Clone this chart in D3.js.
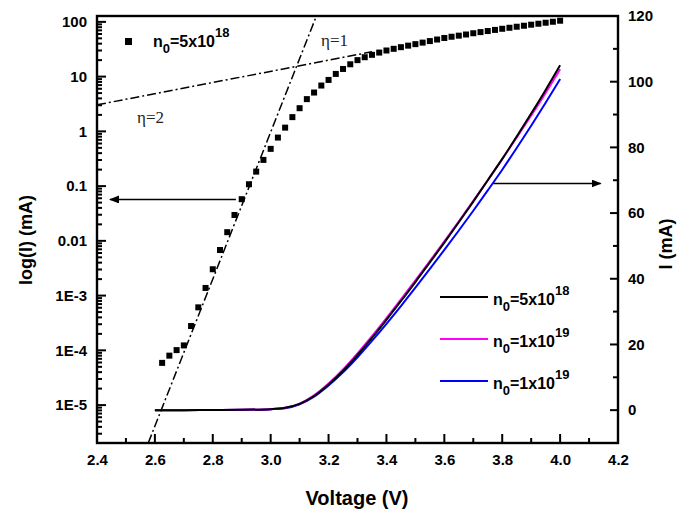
<!DOCTYPE html>
<html>
<head>
<meta charset="utf-8">
<script src="https://cdn.jsdelivr.net/npm/d3@7"></script>
<style>
body { margin: 0; background: #fff; }
text { font-family: "Liberation Sans", Arial, sans-serif; font-weight: bold; fill: #000; }
.eta { font-family: "Liberation Serif", "Times New Roman", serif; font-weight: normal; fill: #222; }
</style>
</head>
<body>
<div id="chart"></div>
<script>
var width = 679, height = 511;
var plotLeft = 97, plotRight = 618, plotTop = 16, plotBottom = 443;

// log(I) measured points, n0 = 5x10^18
var scatterVolt = [2.625, 2.65, 2.675, 2.7, 2.725, 2.75, 2.775, 2.8, 2.825, 2.85,
    2.875, 2.9, 2.925, 2.95, 2.975, 3.0, 3.025, 3.05, 3.075, 3.1,
    3.125, 3.15, 3.175, 3.2, 3.225, 3.25, 3.275, 3.3, 3.325, 3.35,
    3.375, 3.4, 3.425, 3.45, 3.475, 3.5, 3.525, 3.55, 3.575, 3.6,
    3.625, 3.65, 3.675, 3.7, 3.725, 3.75, 3.775, 3.8, 3.825, 3.85,
    3.875, 3.9, 3.925, 3.95, 3.975, 4.0];
var scatterCurrent = [5.9e-5, 8.0e-5, 1.01e-4, 1.23e-4, 2.78e-4, 6.1e-4, 1.38e-3, 3.03e-3, 6.8e-3, 0.0144,
    0.0297, 0.0577, 0.108, 0.184, 0.301, 0.479, 0.77, 1.17, 1.82, 2.65,
    3.88, 5.12, 6.87, 8.7, 11.2, 13.8, 16.8, 20.0, 22.6, 25.0,
    27.5, 30.0, 32.2, 34.5, 36.8, 39.2, 41.8, 44.6, 47.6, 50.8,
    53.5, 56.0, 58.8, 62.0, 65.0, 68.0, 71.3, 74.8, 78.0, 81.5,
    85.0, 88.8, 92.5, 96.5, 100.5, 105.0];

// linear I-V curves (right axis)
var curveVolt = [2.6, 2.7, 2.8, 2.9, 3.0, 3.05, 3.1, 3.15, 3.2, 3.25, 3.3, 3.35, 3.4,
    3.45, 3.5, 3.55, 3.6, 3.65, 3.7, 3.75, 3.8, 3.85, 3.9, 3.95, 4.0];
var curveBlack = [0, 0, 0.05, 0.1, 0.3, 0.7, 1.9, 4.3, 7.8, 12.0, 16.8, 22.0, 27.5,
    33.2, 39.0, 45.0, 51.0, 57.2, 63.5, 70.0, 76.5, 83.3, 90.3, 97.5, 105.0];
var curveMagenta = [0, 0, 0.05, 0.1, 0.3, 0.7, 2.0, 4.5, 8.1, 12.4, 17.3, 22.5, 28.0,
    33.7, 39.5, 45.4, 51.4, 57.5, 63.7, 70.0, 76.4, 83.0, 89.7, 96.6, 103.8];
var curveBlue = [0, 0, 0.05, 0.1, 0.3, 0.6, 1.8, 4.1, 7.5, 11.5, 16.1, 21.1, 26.3,
    31.7, 37.3, 43.0, 48.8, 54.7, 60.7, 66.9, 73.2, 79.8, 86.6, 93.6, 100.8];

// ideality factor fit lines [V, I]
var eta1Line = [[2.577, 2.03e-6], [3.158, 128]];
var eta2Line = [[2.4, 3.05], [3.35, 28.4]];

var xTicks = [2.4, 2.6, 2.8, 3.0, 3.2, 3.4, 3.6, 3.8, 4.0, 4.2];
var xMinor = [2.5, 2.7, 2.9, 3.1, 3.3, 3.5, 3.7, 3.9, 4.1];
var logTicks = [1e-5, 1e-4, 1e-3, 0.01, 0.1, 1, 10, 100];
var logLabels = ['1E-5', '1E-4', '1E-3', '0.01', '0.1', '1', '10', '100'];
var rightTicks = [0, 20, 40, 60, 80, 100, 120];
var rightMinor = [-10, 10, 30, 50, 70, 90, 110];

var legendNames = [['5', '18'], ['1', '19'], ['1', '19']];
var legendColors = ['#000000', '#ff00ff', '#0000ff'];

var svg = d3.select('#chart')
    .append('svg')
    .attr('width', width)
    .attr('height', height);

var xScale = d3.scaleLinear().domain([2.4, 4.2]).range([plotLeft, plotRight]);
var yLog = d3.scaleLog().domain([2.03e-6, 128]).range([plotBottom, plotTop]);
var yLin = d3.scaleLinear().domain([-10, 120]).range([plotBottom, plotTop]);

// plot frame
svg.append('rect')
    .attr('x', plotLeft).attr('y', plotTop)
    .attr('width', plotRight - plotLeft).attr('height', plotBottom - plotTop)
    .attr('fill', 'none').attr('stroke', '#000').attr('stroke-width', 2.4);

// log minor ticks: 2..9 in each decade
var logMinor = [];
[1e-6, 1e-5, 1e-4, 1e-3, 0.01, 0.1, 1, 10, 100].forEach(function(d){
    for (var k = 2; k <= 9; k++) {
        var v = d * k;
        if (v > 2.03e-6 && v < 128) logMinor.push(v);
    }
});

// inward ticks
function vTicks(values, len){
    svg.selectAll(null).data(values).enter().append('line')
        .attr('x1', function(d){ return xScale(d); })
        .attr('x2', function(d){ return xScale(d); })
        .attr('y1', plotBottom).attr('y2', plotBottom - len)
        .attr('stroke', '#000').attr('stroke-width', 2);
}
function hTicks(values, scale, x0, len){
    svg.selectAll(null).data(values).enter().append('line')
        .attr('x1', x0).attr('x2', x0 + len)
        .attr('y1', function(d){ return scale(d); })
        .attr('y2', function(d){ return scale(d); })
        .attr('stroke', '#000').attr('stroke-width', 2);
}
vTicks(xTicks, 9);
vTicks(xMinor, 5);
hTicks(logTicks, yLog, plotLeft, 9);
hTicks(logMinor, yLog, plotLeft, 5);
hTicks(rightTicks, yLin, plotRight, -8);
hTicks(rightMinor, yLin, plotRight, -5);

// tick labels through d3 axes
function labelAxis(g){
    g.select('.domain').remove();
    g.selectAll('.tick line').remove();
    g.selectAll('.tick text').attr('font-size', 15)
        .attr('font-family', '"Liberation Sans", Arial, sans-serif')
        .attr('font-weight', 'bold');
}
svg.append('g').attr('transform', 'translate(0,' + plotBottom + ')')
    .call(d3.axisBottom(xScale).tickValues(xTicks).tickSize(0).tickPadding(11)
        .tickFormat(d3.format('.1f')))
    .call(labelAxis);
svg.append('g').attr('transform', 'translate(' + plotLeft + ',0)')
    .call(d3.axisLeft(yLog).tickValues(logTicks).tickSize(0).tickPadding(10)
        .tickFormat(function(d, i){ return logLabels[i]; }))
    .call(labelAxis);
svg.append('g').attr('transform', 'translate(' + plotRight + ',0)')
    .call(d3.axisRight(yLin).tickValues(rightTicks).tickSize(0).tickPadding(10))
    .call(labelAxis);

// fit lines
var fitLine = d3.line()
    .x(function(d){ return xScale(d[0]); })
    .y(function(d){ return yLog(d[1]); });
[eta1Line, eta2Line].forEach(function(l){
    svg.append('path')
        .attr('d', fitLine(l))
        .attr('fill', 'none')
        .attr('stroke', '#000')
        .attr('stroke-width', 1.5)
        .attr('stroke-dasharray', '9,3,2,3');
});

// I-V curves
var curveLine = function(values){
    return d3.line()
        .x(function(d, i){ return xScale(curveVolt[i]); })
        .y(function(d){ return yLin(d); })
        .curve(d3.curveMonotoneX)(values);
};
[[curveBlue, '#0000ff'], [curveMagenta, '#ff00ff'], [curveBlack, '#000000']].forEach(function(c){
    svg.append('path')
        .attr('d', curveLine(c[0]))
        .attr('fill', 'none')
        .attr('stroke', c[1])
        .attr('stroke-width', 2);
});

// scatter squares
svg.selectAll('.dot')
    .data(scatterCurrent)
    .enter()
    .append('rect')
    .attr('class', 'dot')
    .attr('x', function(d, i){ return xScale(scatterVolt[i]) - 3; })
    .attr('y', function(d){ return yLog(d) - 3; })
    .attr('width', 6)
    .attr('height', 6)
    .attr('fill', '#000');

// arrows
svg.append('defs').append('marker').attr('id', 'head')
    .attr('viewBox', '0 0 10 8').attr('refX', 9).attr('refY', 4)
    .attr('markerWidth', 10).attr('markerHeight', 8)
    .attr('markerUnits', 'userSpaceOnUse')
    .attr('orient', 'auto')
    .append('path').attr('d', 'M0,0 L10,4 L0,8 Z').attr('fill', '#000');

svg.append('line')
    .attr('x1', xScale(2.88)).attr('x2', xScale(2.445))
    .attr('y1', yLog(0.057)).attr('y2', yLog(0.057))
    .attr('stroke', '#000').attr('stroke-width', 1.6)
    .attr('marker-end', 'url(#head)');
svg.append('line')
    .attr('x1', xScale(3.77)).attr('x2', xScale(4.14))
    .attr('y1', yLin(69)).attr('y2', yLin(69))
    .attr('stroke', '#000').attr('stroke-width', 1.6)
    .attr('marker-end', 'url(#head)');

// eta labels
svg.append('text').attr('class', 'eta').attr('x', 321).attr('y', 46).attr('font-size', 17).text('\u03b7=1');
svg.append('text').attr('class', 'eta').attr('x', 137).attr('y', 123).attr('font-size', 17).text('\u03b7=2');

function nLabel(g, x, y, base, exp){
    var t = g.append('text').attr('x', x).attr('y', y).attr('font-size', 16);
    t.append('tspan').text('n');
    t.append('tspan').attr('font-size', 13).attr('dy', 6).text('0');
    t.append('tspan').attr('dy', -6).text('=' + base + 'x10');
    t.append('tspan').attr('font-size', 13).attr('dy', -10).text(exp);
}

// scatter legend
svg.append('rect').attr('x', 125).attr('y', 38).attr('width', 7).attr('height', 7).attr('fill', '#000');
nLabel(svg, 153, 47, '5', '18');

// curve legend
legendNames.forEach(function(n, i){
    var y = 297 + i * 42;
    svg.append('line')
        .attr('x1', 440).attr('x2', 488)
        .attr('y1', y).attr('y2', y)
        .attr('stroke', legendColors[i]).attr('stroke-width', 2);
    nLabel(svg, 493, y + 8, n[0], n[1]);
});

// axis titles
svg.append('text').attr('x', 357).attr('y', 505).attr('text-anchor', 'middle')
    .attr('font-size', 20).text('Voltage (V)');
svg.append('text').attr('transform', 'translate(32,240) rotate(-90)')
    .attr('text-anchor', 'middle').attr('font-size', 18).text('log(I) (mA)');
svg.append('text').attr('transform', 'translate(672,244) rotate(-90)')
    .attr('text-anchor', 'middle').attr('font-size', 18).text('I (mA)');
</script>
</body>
</html>
